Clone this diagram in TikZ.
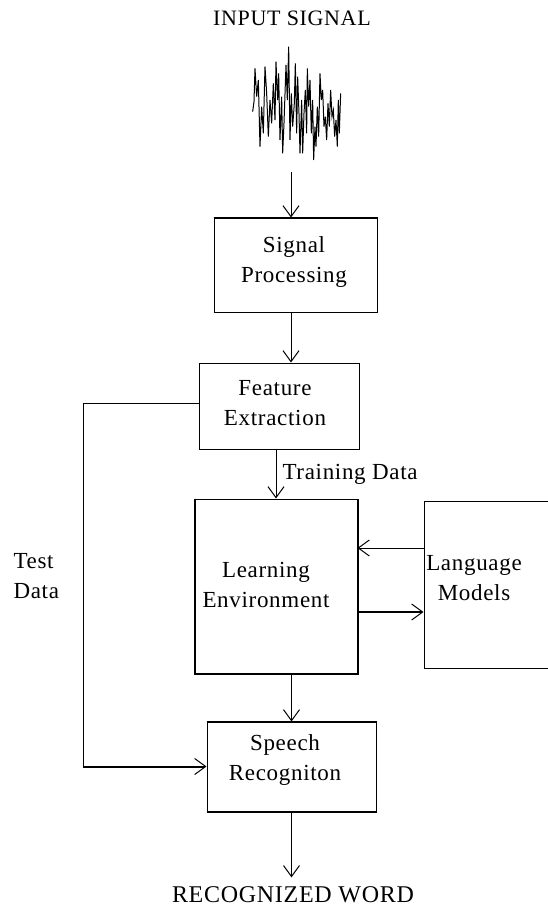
\documentclass[tikz,border=0pt]{standalone}
\usepackage{fontspec}
\setmainfont{Liberation Serif}[LetterSpace=3]
\usetikzlibrary{arrows.meta}
\begin{document}
\begin{tikzpicture}[x=1pt,y=-1pt,line width=1pt,
  box/.style={draw,inner sep=0pt,line width=1pt},
  txt/.style={inner sep=0pt,align=center,font=\fontsize{23}{30}\selectfont},
  arr/.style={-{Straight Barb[length=11pt,width=16pt,line width=1pt]}},
  big/.style={line width=2pt}]
\useasboundingbox (0,0) rectangle (548,911);
\clip (0,0) rectangle (548,911);
% title
\node[inner sep=0pt,font=\fontsize{22}{26}\selectfont] (in) at (292,18) {INPUT SIGNAL};
% waveform
\begin{scope}[xshift=200pt,x=0.3333pt,y=-0.3333pt,line width=1pt]
\draw plot coordinates {(158,335) (162,305) (165,205) (170,290) (175,240) (180,440) (185,320) (190,400) (195,200) (200,280) (205,410) (210,300) (215,370) (220,250) (225,360) (228,185) (233,300) (236,220) (240,420) (245,290) (248,460) (252,370) (258,195) (262,300) (266,140) (270,420) (274,280) (278,380) (283,310) (286,190) (290,400) (293,230) (297,340) (300,460) (305,300) (308,460) (312,340) (316,270) (320,400) (322,205) (326,320) (330,240) (334,400) (338,300) (341,480) (345,380) (348,440) (352,320) (356,410) (360,220) (364,300) (368,270) (372,380) (376,350) (380,420) (384,310) (388,380) (392,270) (396,350) (400,330) (404,410) (408,360) (412,440) (415,300) (418,400) (422,280)};
\end{scope}
\coordinate (wb) at (291,172);
% boxes
\node[box,minimum width=163pt,minimum height=94pt] (sp) at (295.5,265) {};
\node[box,minimum width=160pt,minimum height=86pt] (fe) at (279,406) {};
\node[box,minimum width=162pt,minimum height=174pt] (le) at (276,586) {};
\node[box,minimum width=136pt,minimum height=167pt] (lm) at (492,584.5) {};
\node[box,minimum width=169pt,minimum height=89pt] (sr) at (291.5,766.5) {};
% thick edges
\draw[big] (sp.north west) -- (sp.north east);
\draw[big] (le.north west) -- (le.south west) -- (le.south east) -- (le.north east);
\draw[big] (sr.north west) -- (sr.north east);
\draw[big] (sr.south west) -- (sr.south east);
% texts
\node[txt] at (294,262) {Signal\\Processing};
\node[txt] at (275,403) {Feature\\Extraction};
\node[txt] at (266,585) {Learning\\Environment};
\node[txt] at (474,578) {Language\\Models};
\node[txt] at (285,760) {Speech\\Recogniton};
\node[txt,align=left,anchor=west] at (13,576) {Test\\Data};
\node[inner ysep=9pt,inner xsep=0pt,font=\fontsize{24}{28}\selectfont] (out) at (293,895) {RECOGNIZED WORD};
% connectors
\draw[arr] (wb) -- (wb |- sp.north);
\draw[arr] (sp.south -| wb) -- (fe.north -| wb);
\draw[arr] (fe.south -| le.north) -- node[right=6pt,txt,pos=0.5] {Training Data} (le.north);
\draw[arr] ([yshift=36.5pt]lm.west) -- ([yshift=36.5pt]lm.west -| le.east);
\draw[arr,big] ([yshift=-27.5pt]lm.west -| le.east) -- ([yshift=-27.5pt]lm.west);
\draw[arr] (le.south -| sr.north) -- (sr.north);
\coordinate (tl) at (83,0);
\draw ([yshift=3pt]fe.west) -| (tl |- sr.west);
\draw[arr,big] (tl |- sr.west) -- (sr.west);
\draw[arr] (sr.south) -- (sr.south |- out.north);
\end{tikzpicture}
\end{document}
